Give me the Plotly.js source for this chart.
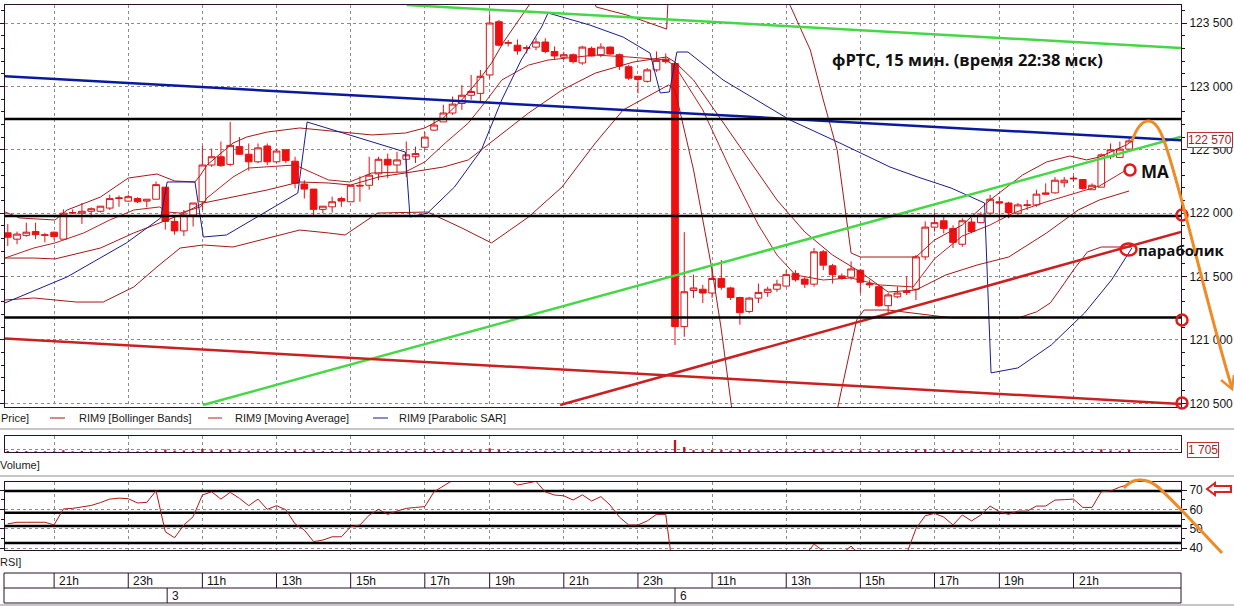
<!DOCTYPE html>
<html><head><meta charset="utf-8">
<script src="https://cdn.plot.ly/plotly-3.0.1.min.js"></script>
<style>html,body{margin:0;padding:0;background:#fff}#chart{width:1234px;height:606px}</style>
</head><body><div id="chart"></div>
<script>
// ---------- DATA ----------
const firstCandle = -5; // candle index of first bar (index 0 = 21:00, day 2)
const openP = [121845,121795,121825,121855,121830,121850,121795,122000,122000,122015,
 122015,122040,122115,122095,122115,122095,122110,122205,121935,121860,
 121985,122090,122380,122445,122385,122525,122465,122405,122530,122405,
 122500,122410,122230,122190,122030,122050,122115,122090,122220,122220,
 122310,122425,122380,122425,122445,122520,122655,122720,122790,122865,
 122930,122945,123090,123510,123340,123325,123300,123310,123350,123275,
 123230,123250,123185,123300,123250,123310,123250,123155,123080,123040,
 123130,123215,123180,121105,121390,121400,121370,121485,121410,121335,
 121225,121330,121375,121400,121425,121525,121480,121440,121695,121585,
 121505,121495,121550,121445,121420,121270,121340,121385,121400,121655,
 121890,121940,121880,121755,121930,121925,122000,122090,122080,122000,
 122060,122065,122160,122160,122240,122270,122265,122185,122205,122445,
 122440,122505];
const highP = [121915,121855,121925,121925,121845,121855,122030,122030,122080,122045,
 122055,122145,122140,122145,122125,122110,122250,122205,121970,122025,
 122080,122530,122510,122565,122720,122600,122550,122550,122550,122510,
 122505,122445,122260,122190,122055,122130,122130,122220,122290,122445,
 122445,122470,122485,122565,122525,122640,122735,122855,122920,123010,
 123090,123130,123570,123525,123365,123370,123325,123385,123380,123315,
 123275,123260,123320,123315,123340,123315,123260,123170,123080,123145,
 123275,123260,123190,121850,121515,121435,121580,121630,121420,121340,
 121340,121445,121420,121475,121550,121550,121495,121725,121710,121600,
 121525,121620,121560,121475,121435,121370,121420,121500,121670,121935,
 122005,121985,121905,121960,121960,122010,122145,122130,122090,122080,
 122105,122185,122235,122285,122285,122295,122265,122235,122470,122550,
 122565,122590];
const lowP = [121740,121755,121815,121795,121770,121790,121795,121995,121915,121965,
 122005,122025,122050,122090,122080,122045,122110,121870,121830,121820,
 121895,122025,122365,122365,122370,122460,122335,122395,122380,122395,
 122395,122195,122115,121970,122000,122005,122050,122090,122090,122185,
 122260,122275,122320,122285,122395,122500,122650,122720,122775,122815,
 122895,122880,123065,123315,123315,123250,123260,123285,123260,123210,
 123210,123180,123170,123235,123230,123250,123130,123050,122945,123030,
 123115,123180,120960,121025,121330,121290,121330,121395,121315,121120,
 121210,121290,121340,121380,121420,121460,121410,121420,121550,121445,
 121475,121475,121370,121410,121260,121210,121330,121355,121315,121630,
 121855,121840,121725,121735,121840,121920,121970,121945,121960,121985,
 122025,122050,122150,122155,122205,122250,122185,122185,122205,122425,
 122435,122500];
const closeP = [121810,121835,121850,121830,121825,121815,122000,122005,122015,122035,
 122055,122115,122120,122130,122090,122110,122225,121935,121860,121985,
 122080,122380,122445,122375,122535,122465,122405,122515,122405,122490,
 122415,122235,122190,122030,122055,122090,122095,122220,122215,122300,
 122425,122380,122420,122460,122470,122600,122695,122790,122860,122930,
 122960,123080,123500,123325,123345,123280,123305,123350,123275,123240,
 123250,123195,123310,123240,123310,123255,123160,123065,123055,123130,
 123205,123195,121105,121380,121410,121370,121485,121415,121335,121215,
 121330,121375,121400,121440,121515,121475,121440,121695,121590,121515,
 121485,121560,121455,121435,121270,121355,121370,121375,121655,121890,
 121925,121880,121770,121940,121855,121985,122110,122080,122005,122065,
 122065,122150,122150,122260,122260,122275,122195,122220,122460,122500,
 122505,122570];
const volume = [900,700,800,700,600,700,1500,600,900,700,
 600,900,600,700,600,700,1200,2200,1200,1300,
 1000,2600,1400,1500,2000,1100,1200,1100,1100,900,
 900,1600,1000,1500,700,900,700,1100,900,1300,
 1200,1000,1000,1100,800,1300,1000,1200,1300,1400,
 1300,1500,3000,1800,900,900,800,900,1000,900,
 700,800,1200,900,1000,800,1100,1300,1000,1100,
 1000,900,10200,4200,1500,1400,1800,1600,1100,1700,
 1500,1200,900,900,1200,900,900,2000,1300,1200,
 800,1200,1300,700,1500,1300,900,900,2100,2300,
 1200,1300,1500,1700,1200,1000,1400,1100,1100,1000,
 900,1100,900,1300,900,800,1100,800,2300,1300,
 1100,1705];
const rsi = [52.5,53.3,53.3,53.3,53.3,52,60.2,60.5,61.2,62,
 63.5,65.3,65.8,65.5,63.3,63.6,69.6,48.4,45.3,51.9,
 56.2,67.4,69.1,65.3,68.8,65.7,61.9,65.3,60.0,61.9,
 59.8,52.5,49.3,43.3,44.1,45.8,45.8,51.0,51.9,57,
 60,57.4,59.1,60.5,61,61.4,69.1,72,75,77,
 79,80,85,78,76,72.6,73.5,74.5,69,67.4,
 67,64.8,67.5,64.3,66.6,62.2,56,51.9,51.9,54,
 57.4,57.4,20,32,33,32,36,34,32,28,
 32,34,35,36,38,37,36,42,38,35,
 37,41,36,35,30,33,35,37,50,56.7,
 57.9,56,51.9,57.1,54,57.1,61.7,58.8,57.4,59.1,
 59.1,61.7,61.7,64.8,65,65.3,61,61,69.1,69.5,
 71.5,72.9];

// indicator lines (candle index, price)
const bbUpperIdx = [-5.3,-3.7,0.1,1.4,5,8,11.1,12.2,13,15.2,15.8,16.5,19.3,20.8,23,26.5,29.6,34.3,37.9,40,42,44,46,47.2,48.5,50,52,58,58.5,61.8,66.1,66.5,67,79,79.4,81.6,83,84.5,85.5,86,87,93,95,98,101,104.5,107.1,109.6,111.4,112.8,115.7,116.3];
const bbUpperPrice = [122009,121962,121946,122025,122127,122277,122309,122277,122254,122246,122301,122380,122553,122601,122640,122672,122648,122617,122632,122672,122751,122893,123066,123184,123350,123508,123720,123720,123626,123563,123452,124075,124864,123760,123642,123287,122893,122498,121970,121686,121654,121654,121788,121907,122104,122301,122404,122451,122420,122443,122538,122569];
const bbMidIdx = [-5.3,-2.2,0.1,5,8.6,11.4,13.6,16.1,19.3,23,26.5,29.6,32,35,37.9,42,44.7,47,51.2,54.8,58.4,62.5,66.1,67,69,72,75,78,81,84,87,90,93,96.2,99.6,103,107.1,110.5,112.8,116];
const bbMidPrice = [121646,121646,121639,121725,121844,121922,121986,122080,122127,122183,122246,122238,122222,122285,122317,122364,122420,122553,122790,122971,123105,123192,123232,123192,123050,122735,122420,122104,121852,121670,121536,121378,121394,121512,121591,121654,121844,122025,122104,122175];
const bbLowIdx = [-5.3,-2.2,2.4,5.3,8.6,11.1,13.6,16.1,19.3,26.5,29.6,31.4,34.9,40.3,44,47.2,51.2,54.8,58.4,61.4,66.3,67,68,69,70,71,72,73,74,84,84.5,85.9,86.6,87.4,90,97,104,106,107.5,108.5,110,111.5,113,116.3];
const bbLowPrice = [121315,121331,121299,121299,121418,121576,121725,121749,121733,121867,121844,121828,122001,122009,121883,121765,121970,122206,122553,122814,123011,122971,122656,122341,121946,121552,121079,120527,119975,119975,120448,120921,121157,121236,121236,121173,121173,121221,121292,121394,121552,121694,121733,121733];
const maIdx = [-5.3,-2.2,0.1,3.2,6,8.6,11.4,12.2,13.6,15.8,16.5,19.3,21,26,29.6,31.9,34.3,37.9,40,42.2,44.7,46.7,48.3,51.2,53.3,58.4,62,66,67,70,73,76,78,80,83,86,89,92.7,95,98,101,103.5,107,110.5,112.8,115.7];
const maPrice = [121646,121725,121765,121844,121946,122025,122049,122009,122001,122049,122120,122285,122356,122380,122262,122246,122317,122325,122404,122553,122711,122893,123050,123168,123208,123247,123232,123208,123161,122814,122341,121907,121670,121512,121473,121489,121434,121418,121640,121820,121907,122001,122088,122167,122214,122341];
const sarIdx = [-5.3,1.4,7.8,11.5,12.2,15.2,16.1,18.6,26.3,27.3,37.9,38.4,40.3,43.2,46.1,48.3,50.4,52.6,53.3,54.9,57.8,61.4,64.3,65.4,66.4,67.2,68.4,72.2,79.4,84.8,90.2,93.2,96.8,100.4,101.1,104,107.6,111.2,114.1,116.3];
const sarPrice = [121292,121497,121765,121962,122246,122246,121812,121828,122159,122719,122482,121970,122001,122206,122498,122893,123208,123468,123579,123547,123484,123389,123263,122948,122956,123271,123271,123050,122735,122553,122364,122285,122198,122080,120740,120779,120960,121213,121473,121725];

// hand-drawn lines (candle index, price)
const greenTopIdx = [38.05, 121.6], greenTopPrice = [123642, 123303];
const blueIdx = [-5.8, 121.6], bluePrice = [123081, 122575];
const greenLowIdx = [16.07, 121.6], greenLowPrice = [120487, 122603];
const redLowIdx = [-5.8, 121.6], redLowPrice = [121013, 120495];
const redUpIdx = [54.6, 121.6], redUpPrice = [120487, 121852];
const levelPrices = [122743, 121978, 121176];
const rsiLevels = [69.5, 58.2, 51.4, 42.6];

// axis labels
const priceTicks = [120500,121000,121500,122000,122500,123000,123500];
const rsiTicks = [40,50,60,70];
const hourTickIdx = [0,8,16,24,32,40,47,55,63,71,79,87,95,102,110];
const hourTickText = ['21h','23h','11h','13h','15h','17h','19h','21h','23h','11h','13h','15h','17h','19h','21h'];
const dayTickIdx = [12.2, 67];
const dayTickText = ['3','6'];
const lastPriceLabel = '122 570';
const lastVolumeLabel = '1 705';
const titleText = 'фРТС, 15 мин. (время 22:38 мск)';

// ---------- BUILD ----------
const W = 1234, H = 606;
const px = x => x / W, py = y => 1 - y / H;
const candleIdx = openP.map((_, i) => firstCandle + i);
const FRAME = '#2b102b', GRID = '#8c8c8c', DRED = '#a51818';

const lineTrace = (x, y, color, width, xa, ya) => ({type:'scatter', mode:'lines', x, y, xaxis:xa||'x', yaxis:ya||'y',
  line:{color, width, shape:'linear'}, hoverinfo:'skip', showlegend:false});

const traces = [
  lineTrace(bbUpperIdx, bbUpperPrice, DRED, 1),
  lineTrace(bbMidIdx, bbMidPrice, DRED, 1),
  lineTrace(bbLowIdx, bbLowPrice, DRED, 1),
  lineTrace(maIdx, maPrice, '#b82020', 1),
  lineTrace(sarIdx, sarPrice, '#1c1c8c', 1),
  {type:'candlestick', x:candleIdx, open:openP, high:highP, low:lowP, close:closeP, xaxis:'x', yaxis:'y',
   increasing:{line:{color:'#d41414', width:1}, fillcolor:'#ffffff'},
   decreasing:{line:{color:'#ee1010', width:1}, fillcolor:'#ee1010'},
   whiskerwidth:0, hoverinfo:'skip', showlegend:false},
  lineTrace(greenTopIdx, greenTopPrice, '#45d845', 2.5),
  lineTrace(greenLowIdx, greenLowPrice, '#45d845', 2.5),
  lineTrace(blueIdx, bluePrice, '#0a1a9e', 2.5),
  lineTrace(redLowIdx, redLowPrice, '#cc2020', 2.5),
  lineTrace(redUpIdx, redUpPrice, '#cc2020', 2.5),
];
levelPrices.forEach(p => traces.push(lineTrace([-6, 122], [p, p], '#000000', 2.5)));
traces.push({type:'bar', x:candleIdx, y:volume, xaxis:'x2', yaxis:'y2', marker:{color:'#c01818'}, width:0.25, hoverinfo:'skip', showlegend:false});
rsiLevels.forEach(v => traces.push(lineTrace([-6, 122], [v, v], '#000000', 2.5, 'x3', 'y3')));
traces.push(lineTrace(candleIdx, rsi, '#b01818', 1, 'x3', 'y3'));

const xDomain = [px(5), px(1181)];
const xCommon = {range:[-5.3, 121.6], tickvals:hourTickIdx, showticklabels:false, ticks:'', showgrid:true,
  gridcolor:GRID, griddash:'3px,3px', gridwidth:1, zeroline:false, showline:true, mirror:true, linecolor:FRAME, linewidth:1,
  fixedrange:true, domain:xDomain};
const tickFont = {family:'Liberation Sans, Arial, sans-serif', size:12, color:'#141414'};

const shapes = [];
const annotations = [];
// separators
[429, 476, 605].forEach(y => shapes.push({type:'line', xref:'paper', yref:'paper', x0:0, x1:1, y0:py(y), y1:py(y), line:{color:'#c6c6c6', width:2}}));
// time axis box
shapes.push({type:'rect', xref:'paper', yref:'paper', x0:px(4), x1:px(1181), y0:py(603), y1:py(573), line:{color:FRAME, width:1}});
shapes.push({type:'line', xref:'paper', yref:'paper', x0:px(4), x1:px(1181), y0:py(588), y1:py(588), line:{color:FRAME, width:1}});
hourTickIdx.forEach((t, i) => {
  shapes.push({type:'line', xref:'x', yref:'paper', x0:t, x1:t, y0:py(588), y1:py(573), line:{color:FRAME, width:1}});
  annotations.push({xref:'x', yref:'paper', x:t, y:py(580.5), xanchor:'left', yanchor:'middle', xshift:3, text:hourTickText[i], showarrow:false, font:tickFont});
});
dayTickIdx.forEach((t, i) => {
  shapes.push({type:'line', xref:'x', yref:'paper', x0:t, x1:t, y0:py(603), y1:py(588), line:{color:FRAME, width:1}});
  annotations.push({xref:'x', yref:'paper', x:t, y:py(595.5), xanchor:'left', yanchor:'middle', xshift:3, text:dayTickText[i], showarrow:false, font:tickFont});
});
// legend row
const legFont = {family:'Liberation Sans, Arial, sans-serif', size:11, color:'#1a1a1a'};
[[50,65,DRED,77,'RIM9 [Bollinger Bands]'],[208,222,'#b82020',233,'RIM9 [Moving Average]'],[373,388,'#1c1c8c',397,'RIM9 [Parabolic SAR]']].forEach(l => {
  shapes.push({type:'line', xref:'paper', yref:'paper', x0:px(l[0]), x1:px(l[1]), y0:py(418), y1:py(418), line:{color:l[2], width:1}});
  annotations.push({xref:'paper', yref:'paper', x:px(l[3]), y:py(418), xanchor:'left', yanchor:'middle', text:l[4], showarrow:false, font:legFont});
});
annotations.push({xref:'paper', yref:'paper', x:px(-1), y:py(418), xanchor:'left', yanchor:'middle', text:'Price]', showarrow:false, font:legFont});
annotations.push({xref:'paper', yref:'paper', x:px(-2), y:py(465), xanchor:'left', yanchor:'middle', text:'Volume]', showarrow:false, font:legFont});
annotations.push({xref:'paper', yref:'paper', x:px(-2), y:py(562), xanchor:'left', yanchor:'middle', text:'RSI]', showarrow:false, font:legFont});
// value tags
annotations.push({xref:'paper', yref:'paper', x:px(1187), y:py(140), xanchor:'left', yanchor:'middle', text:lastPriceLabel, showarrow:false,
  font:{family:'Liberation Sans, Arial, sans-serif', size:12, color:'#b01c1c'}, bgcolor:'#ffffff', bordercolor:'#c03030', borderwidth:1, borderpad:0});
annotations.push({xref:'paper', yref:'paper', x:px(1187), y:py(450), xanchor:'left', yanchor:'middle', text:lastVolumeLabel, showarrow:false,
  font:{family:'Liberation Sans, Arial, sans-serif', size:12, color:'#b01c1c'}, bgcolor:'#ffffff', bordercolor:'#c03030', borderwidth:1, borderpad:0});
// title and notes
const noteFont = s => ({family:'Open Sans, Liberation Sans, sans-serif', size:s, color:'#111111'});
annotations.push({xref:'paper', yref:'paper', x:px(967), y:py(60), xanchor:'center', yanchor:'middle', text:'<b>'+titleText+'</b>', showarrow:false, font:noteFont(16.5)});
annotations.push({xref:'paper', yref:'paper', x:px(1139), y:py(171), xanchor:'left', yanchor:'middle', text:'<b>MA</b>', showarrow:false, font:noteFont(17)});
annotations.push({xref:'paper', yref:'paper', x:px(1136), y:py(250), xanchor:'left', yanchor:'middle', text:'<b>параболик</b>', showarrow:false, font:noteFont(15)});
// red circles
const RED = '#e01a1a';
[[1130,170,5.5,5.5],[1128.5,249.5,8,6],[1182,215,5.5,5.5],[1182,320,5.5,5.5],[1182,403,5.5,5.5]].forEach(c => {
  shapes.push({type:'circle', xref:'paper', yref:'paper', x0:px(c[0]-c[2]), x1:px(c[0]+c[2]), y0:py(c[1]+c[3]), y1:py(c[1]-c[3]), line:{color:RED, width:2.5}, fillcolor:'rgba(255,255,255,0)'});
});
// orange forecast curves
const P = (x, y) => px(x).toFixed(5) + ',' + py(y).toFixed(5);
const ORANGE = '#f08a24';
shapes.push({type:'path', xref:'paper', yref:'paper', path:'M'+P(1132,141)+' C'+P(1140,118)+' '+P(1153,112)+' '+P(1163,138)+' C'+P(1180,182)+' '+P(1205,300)+' '+P(1232,388), line:{color:ORANGE, width:3}});
shapes.push({type:'path', xref:'paper', yref:'paper', path:'M'+P(1221,380)+' L'+P(1232,389)+' L'+P(1234,375), line:{color:ORANGE, width:2.5}});
shapes.push({type:'path', xref:'paper', yref:'paper', path:'M'+P(1124,488)+' C'+P(1131,479)+' '+P(1145,476)+' '+P(1158,487)+' C'+P(1175,502)+' '+P(1200,530)+' '+P(1222,553), line:{color:ORANGE, width:3}});
// red hollow arrow in RSI panel
shapes.push({type:'path', xref:'paper', yref:'paper', path:'M'+P(1207,489)+' L'+P(1215,483)+' L'+P(1215,486)+' L'+P(1231,486)+' L'+P(1231,492)+' L'+P(1215,492)+' L'+P(1215,495)+' Z', line:{color:'#e02020', width:2}, fillcolor:'#ffffff'});

const layout = {
  width:W, height:H, margin:{l:0, r:0, t:0, b:0, pad:0}, paper_bgcolor:'#ffffff', plot_bgcolor:'#ffffff',
  separators:'. ', showlegend:false, hovermode:false, dragmode:false, boxgap:0.28, boxgroupgap:0,
  xaxis: Object.assign({}, xCommon, {anchor:'y', rangeslider:{visible:false}}),
  xaxis2: Object.assign({}, xCommon, {anchor:'y2', matches:'x'}),
  xaxis3: Object.assign({}, xCommon, {anchor:'y3', matches:'x'}),
  yaxis: {domain:[py(407), py(5)], range:[120471, 123642], side:'right', tickvals:priceTicks, tickformat:',d', ticks:'outside', ticklen:5, tickcolor:FRAME,
    minor:{dtick:100, ticks:'outside', ticklen:3, tickcolor:FRAME, showgrid:false}, showgrid:true, gridcolor:GRID, griddash:'3px,3px', zeroline:false,
    showline:true, mirror:'ticks', linecolor:FRAME, linewidth:1, tickfont:tickFont, automargin:false, fixedrange:true},
  yaxis2: {domain:[py(452), py(436)], range:[0, 13600], side:'right', tickvals:[2550], showticklabels:false, ticks:'', showgrid:true, gridcolor:GRID, griddash:'3px,3px',
    zeroline:false, showline:true, mirror:true, linecolor:FRAME, linewidth:1, automargin:false, fixedrange:true},
  yaxis3: {domain:[py(550), py(482)], range:[38.97, 74.14], side:'right', tickvals:rsiTicks, ticks:'outside', ticklen:5, tickcolor:FRAME,
    minor:{dtick:5, ticks:'outside', ticklen:3, tickcolor:FRAME, showgrid:false}, showgrid:true, gridcolor:GRID, griddash:'3px,3px', zeroline:false,
    showline:true, mirror:'ticks', linecolor:FRAME, linewidth:1, tickfont:tickFont, automargin:false, fixedrange:true},
  shapes, annotations
};
Plotly.newPlot('chart', traces, layout, {staticPlot:true, displayModeBar:false});
</script></body></html>
